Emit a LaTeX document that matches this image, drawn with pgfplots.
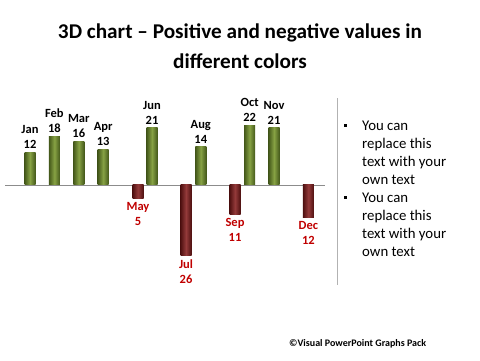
\documentclass[border=0pt]{standalone}
\usepackage{pgfplots}
\pgfplotsset{compat=1.18}
\usepackage{fontspec}
\setmainfont{Carlito}
\definecolor{gdark}{RGB}{68,88,26}
\definecolor{glight}{RGB}{135,162,68}
\definecolor{rdark}{RGB}{78,16,16}
\definecolor{rlight}{RGB}{148,58,58}
\definecolor{lblred}{RGB}{192,0,0}
\newsavebox\tA
\pgfplotsset{
  gbar/.style={draw=none, left color=gdark, right color=gdark, middle color=glight,
    every node near coord/.append style={text=black, anchor=south}},
  rbar/.style={draw=none, left color=rdark, right color=rdark, middle color=rlight,
    every node near coord/.append style={text=lblred, anchor=north}},
}
\begin{document}
\sbox\tA{\bfseries\fontsize{21bp}{25bp}\selectfont 3D chart – Positive and negative values in}%
\pgfmathsetmacro\tsx{364bp/\wd\tA}%
\begin{tikzpicture}[x=1bp,y=1bp]
\path[use as bounding box] (0,0) rectangle (480,360);
\begin{axis}[
  at={(0,0)}, anchor=south west,
  x=1bp, y=2.72bp,
  xmin=0, xmax=480, ymin=-64.34, ymax=68.01,
  hide axis, clip=false,
  ybar, bar width=11bp, bar shift=0pt,
  point meta=explicit symbolic,
  nodes near coords,
  every node near coord/.append style={align=center, inner sep=3.5bp,
     font=\bfseries\fontsize{12.5bp}{15bp}\selectfont},
]
\draw[gray!90] (axis cs:5,0) -- (axis cs:325,0);
\addplot[gbar] coordinates {(30,12) [Jan\\12]};
\addplot[gbar] coordinates {(54.4,18) [Feb\\18]};
\addplot[gbar] coordinates {(78.8,16) [Mar\\16]};
\addplot[gbar] coordinates {(103.2,13) [Apr\\13]};
\addplot[rbar] coordinates {(138,-5) [May\\5]};
\addplot[gbar] coordinates {(152,21) [Jun\\21]};
\addplot[rbar] coordinates {(186,-26) [Jul\\26]};
\addplot[gbar] coordinates {(200.8,14) [Aug\\14]};
\addplot[rbar] coordinates {(235,-11) [Sep\\11]};
\addplot[gbar] coordinates {(249.6,22) [Oct\\22]};
\addplot[gbar] coordinates {(274,21) [Nov\\21]};
\addplot[rbar] coordinates {(308.4,-12) [Dec\\12]};
\end{axis}
% title
\node[anchor=base, inner sep=0] at (240,322) {\scalebox{\tsx}[1]{\usebox\tA}};
\node[anchor=base, inner sep=0] at (240,292) {\scalebox{\tsx}[1]{\bfseries\fontsize{21bp}{25bp}\selectfont different colors}};
% separator and text
\draw[gray!60, line width=0.8bp] (337,262) -- (337,75);
\fill (344.2,233) rectangle +(3,3);
\fill (344.2,161) rectangle +(3,3);
\node[anchor=base west, inner sep=0, align=left, font=\fontsize{14.8bp}{18bp}\selectfont] at (362,176)
  {You can\\replace this\\text with your\\own text};
\node[anchor=base west, inner sep=0, align=left, font=\fontsize{14.8bp}{18bp}\selectfont] at (362,104)
  {You can\\replace this\\text with your\\own text};
\node[anchor=base west, inner sep=0, font=\bfseries\fontsize{10bp}{12bp}\selectfont] at (289,13.5)
  {©Visual PowerPoint Graphs Pack};
\end{tikzpicture}
\end{document}
